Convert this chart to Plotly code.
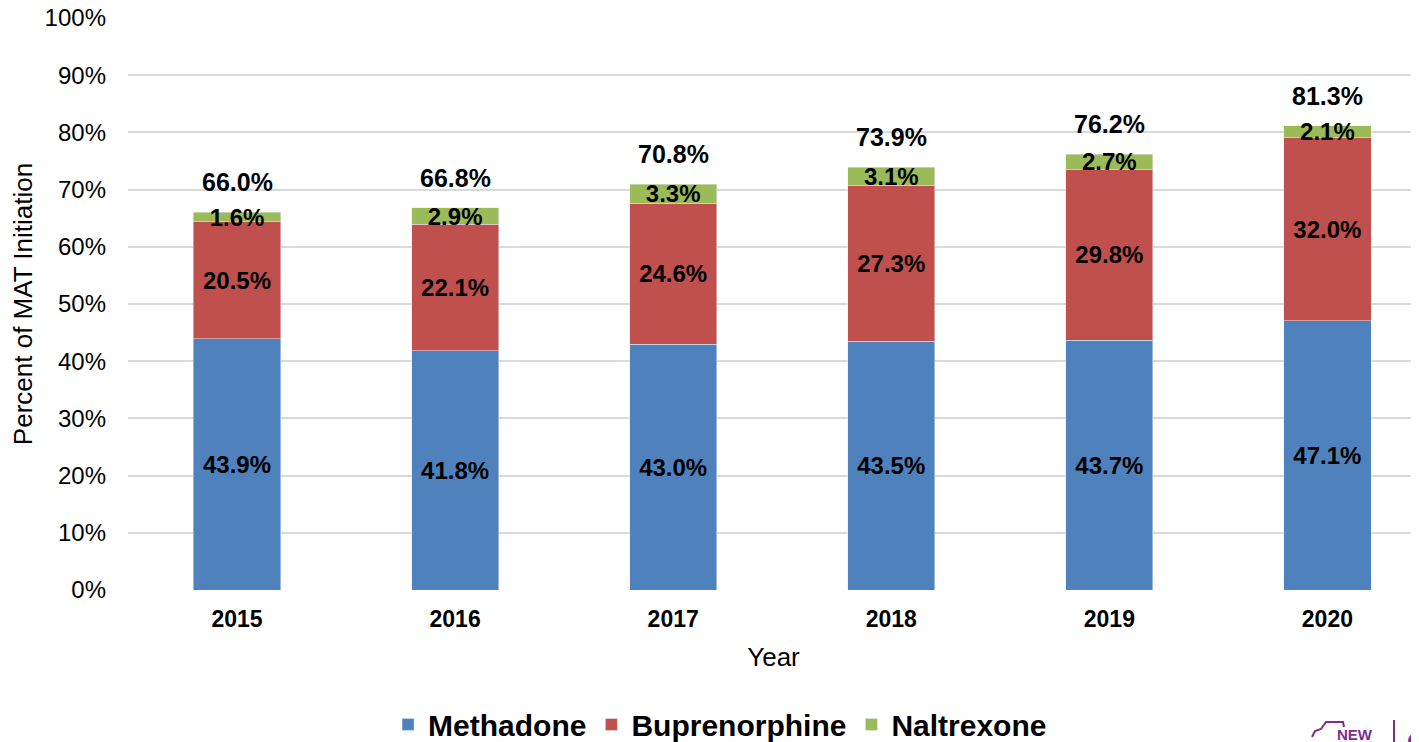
import plotly.graph_objects as go

# Daten aus dem Diagramm
years = ["2015", "2016", "2017", "2018", "2019", "2020"]
methadone = [43.9, 41.8, 43.0, 43.5, 43.7, 47.1]
buprenorphine = [20.5, 22.1, 24.6, 27.3, 29.8, 32.0]
naltrexone = [1.6, 2.9, 3.3, 3.1, 2.7, 2.1]
totals = [66.0, 66.8, 70.8, 73.9, 76.2, 81.3]
y_ticks = [0, 10, 20, 30, 40, 50, 60, 70, 80, 90, 100]
y_tick_labels = [f"{v}%" for v in y_ticks]

font_family = "Liberation Sans, Arial, sans-serif"
purple = "#7B2C8F"

# Seite hat 8px Rand, daher Figur etwas kleiner und verschoben
OFF = 8
FIG_W, FIG_H = 1419 - OFF, 742 - OFF
L, T, H = 128 - OFF, 18 - OFF, 572
W = FIG_W - L


def px(x, y):
    # Bildschirm-Pixel -> Paper-Koordinaten
    return (x - OFF - L) / W, (T + H - (y - OFF)) / H


fig = go.Figure()
for name, values, color in [
    ("Methadone", methadone, "#4F81BD"),
    ("Buprenorphine", buprenorphine, "#C0504D"),
    ("Naltrexone", naltrexone, "#9BBB59"),
]:
    fig.add_trace(go.Bar(
        x=years, y=values, name=name, marker_color=color,
        text=[f"<b>{v:.1f}%</b>" for v in values],
        textposition="inside", insidetextanchor="middle",
        textfont=dict(family=font_family, size=24, color="black"),
        cliponaxis=False, hoverinfo="skip",
    ))

# Summen ueber den Balken (x als Kategorie-Index)
stack_top = [m + b + n for m, b, n in zip(methadone, buprenorphine, naltrexone)]
annotations = [
    dict(x=i, y=top, text=f"<b>{t:.1f}%</b>", showarrow=False, yshift=30,
         yanchor="middle", font=dict(family=font_family, size=25, color="black"))
    for i, (top, t) in enumerate(zip(stack_top, totals))
]

# Logo-Rest unten rechts
lx, ly = px(1355, 734)
annotations.append(dict(text="<b>NEW</b>", x=lx, y=ly, xref="paper", yref="paper",
                        xanchor="center", yanchor="middle",
                        showarrow=False, font=dict(family=font_family, size=15, color=purple)))
ox, oy = px(1405, 742)
annotations.append(dict(text="<b>O</b>", x=ox, y=oy, xref="paper", yref="paper",
                        xanchor="left", yanchor="middle",
                        showarrow=False, font=dict(family=font_family, size=26, color=purple)))

car = [(1312, 737), (1315, 731), (1321, 729), (1326, 722), (1343, 722), (1344, 727)]
path = "M " + " L ".join(f"{px(a, b)[0]},{px(a, b)[1]}" for a, b in car)
x1, y1 = px(1394, 720)
x2, y2 = px(1394, 742)
shapes = [
    dict(type="path", path=path, xref="paper", yref="paper", line=dict(color=purple, width=2)),
    dict(type="line", x0=x1, y0=y1, x1=x2, y1=y2, xref="paper", yref="paper",
         line=dict(color=purple, width=2)),
]

fig.update_layout(
    barmode="stack",
    bargap=0.6,
    width=FIG_W, height=FIG_H,
    margin=dict(l=L, r=0, t=T, b=FIG_H - T - H, autoexpand=False),
    plot_bgcolor="white", paper_bgcolor="white",
    font=dict(family=font_family, color="black"),
    uniformtext=dict(minsize=24, mode="show"),
    legend=dict(
        orientation="h", x=0.4586, xanchor="center", y=-0.235, yanchor="middle",
        font=dict(family=font_family, size=30, color="black", weight="bold"),
        traceorder="normal",
    ),
    annotations=annotations,
    shapes=shapes,
)

fig.update_xaxes(
    type="category", range=[-0.5, 5.42], automargin=False,
    tickfont=dict(family=font_family, size=23, color="black", weight="bold"),
    title=dict(text="Year", font=dict(family=font_family, size=26, color="black"), standoff=16),
    showgrid=False, ticks="", showline=False, ticklabelstandoff=13,
)
fig.update_yaxes(
    range=[0, 100], tickmode="array", tickvals=y_ticks, ticktext=y_tick_labels,
    automargin=False, ticklabeloverflow="allow",
    tickfont=dict(family=font_family, size=24, color="black"),
    title=dict(text="Percent of MAT Initiation", font=dict(family=font_family, size=26, color="black"), standoff=4),
    gridcolor="#D9D9D9", gridwidth=1.5, zeroline=False, showline=False,
    ticklabelstandoff=21,
)

fig.write_html("out.html")
